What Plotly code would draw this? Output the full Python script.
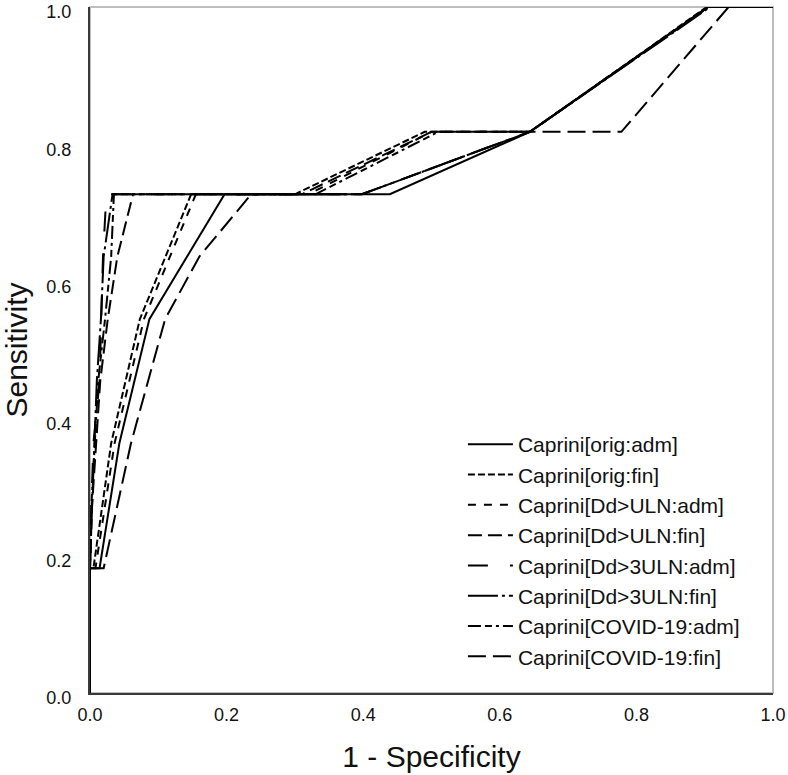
import plotly.graph_objects as go

# Series names
names = [
    "Caprini[orig:adm]",
    "Caprini[orig:fin]",
    "Caprini[Dd>ULN:adm]",
    "Caprini[Dd>ULN:fin]",
    "Caprini[Dd>3ULN:adm]",
    "Caprini[Dd>3ULN:fin]",
    "Caprini[COVID-19:adm]",
    "Caprini[COVID-19:fin]",
]

# 1 - Specificity (x) and Sensitivity (y) for each curve
x_orig_adm = [0, 0, 0.014, 0.043, 0.087, 0.197, 0.439, 0.644, 0.905, 1.0]
y_orig_adm = [0, 0.182, 0.182, 0.364, 0.545, 0.727, 0.727, 0.818, 1.0, 1.0]

x_orig_fin = [0, 0, 0.005, 0.031, 0.073, 0.148, 0.300, 0.490, 0.644, 0.903, 1.0]
y_orig_fin = [0, 0.182, 0.182, 0.364, 0.545, 0.727, 0.727, 0.818, 0.818, 1.0, 1.0]

x_dd_adm = [0, 0, 0.008, 0.036, 0.079, 0.155, 0.320, 0.500, 0.644, 0.906, 1.0]
y_dd_adm = [0, 0.182, 0.182, 0.364, 0.545, 0.727, 0.727, 0.818, 0.818, 1.0, 1.0]

x_dd_fin = [0, 0, 0.003, 0.015, 0.026, 0.040, 0.063, 0.310, 0.500, 0.644, 0.905, 1.0]
y_dd_fin = [0, 0.182, 0.273, 0.455, 0.545, 0.636, 0.727, 0.727, 0.818, 0.818, 1.0, 1.0]

x_dd3_adm = [0, 0, 0.002, 0.005, 0.014, 0.019, 0.024, 0.398, 0.644, 0.905, 1.0]
y_dd3_adm = [0, 0.182, 0.273, 0.364, 0.455, 0.636, 0.727, 0.727, 0.818, 1.0, 1.0]

x_dd3_fin = [0, 0, 0.003, 0.010, 0.016, 0.020, 0.033, 0.398, 0.644, 0.908, 1.0]
y_dd3_fin = [0, 0.182, 0.273, 0.455, 0.545, 0.636, 0.727, 0.727, 0.818, 1.0, 1.0]

x_cov_adm = [0, 0, 0.002, 0.012, 0.022, 0.031, 0.035, 0.330, 0.510, 0.644, 0.905, 1.0]
y_cov_adm = [0, 0.182, 0.273, 0.455, 0.545, 0.636, 0.727, 0.727, 0.818, 0.818, 1.0, 1.0]

x_cov_fin = [0, 0, 0.020, 0.060, 0.110, 0.160, 0.236, 0.398, 0.644, 0.778, 0.935, 1.0]
y_cov_fin = [0, 0.182, 0.182, 0.364, 0.545, 0.636, 0.727, 0.727, 0.818, 0.818, 1.0, 1.0]

xs = [x_orig_adm, x_orig_fin, x_dd_adm, x_dd_fin, x_dd3_adm, x_dd3_fin, x_cov_adm, x_cov_fin]
ys = [y_orig_adm, y_orig_fin, y_dd_adm, y_dd_fin, y_dd3_adm, y_dd3_fin, y_cov_adm, y_cov_fin]

dashes = [
    "solid",
    "7px,3px",
    "8px,8px",
    "14px,6px",
    "20px,22px",
    "30px,4px,3px,4px",
    "13px,4px,7px,4px,3px,4px",
    "18px,7px",
]

tick_vals = [0.0, 0.2, 0.4, 0.6, 0.8, 1.0]
tick_text = ["0.0", "0.2", "0.4", "0.6", "0.8", "1.0"]

fig = go.Figure()
for name, x, y, d in zip(names, xs, ys, dashes):
    fig.add_trace(go.Scatter(
        x=x, y=y, mode="lines", name=name,
        line=dict(color="black", width=2, dash=d),
    ))

base_font = "Liberation Sans, Arial, sans-serif"

fig.update_layout(
    width=788, height=775,
    margin=dict(l=90, r=15, t=7, b=82, pad=0, autoexpand=False),
    paper_bgcolor="white", plot_bgcolor="white",
    font=dict(family=base_font, color="#111"),
    showlegend=True,
    legend=dict(
        x=0.546, y=0.392, xanchor="left", yanchor="top",
        font=dict(size=21, family=base_font, color="#111"),
        bgcolor="rgba(0,0,0,0)", itemwidth=45,
        tracegroupgap=0,
    ),
    shapes=[dict(
        type="rect", xref="x domain", yref="y domain",
        x0=0, x1=1, y0=0, y1=1,
        line=dict(color="#bdbdbd", width=2), layer="below",
    )],
)

fig.update_xaxes(
    range=[0, 1], tickvals=tick_vals, ticktext=tick_text,
    showgrid=False, zeroline=False, automargin=False,
    showline=True, linecolor="#3a3a3a", linewidth=2,
    ticks="", ticklabelstandoff=4, ticklabeloverflow="allow",
    tickfont=dict(size=18, family=base_font, color="#111"),
    title=dict(text="1 - Specificity", font=dict(size=30, family=base_font, color="#111"), standoff=22),
)
fig.update_yaxes(
    range=[0, 1], tickvals=tick_vals, ticktext=tick_text,
    showgrid=False, zeroline=False, automargin=False,
    showline=True, linecolor="#3a3a3a", linewidth=2,
    ticks="", ticklabelstandoff=13, ticklabelshift=5, ticklabeloverflow="allow",
    tickfont=dict(size=18, family=base_font, color="#111"),
    title=dict(text="Sensitivity", font=dict(size=30, family=base_font, color="#111"), standoff=21),
)

fig.write_html(
    "out.html",
    config={"displayModeBar": False},
    post_script="document.body.style.margin='0';",
)
